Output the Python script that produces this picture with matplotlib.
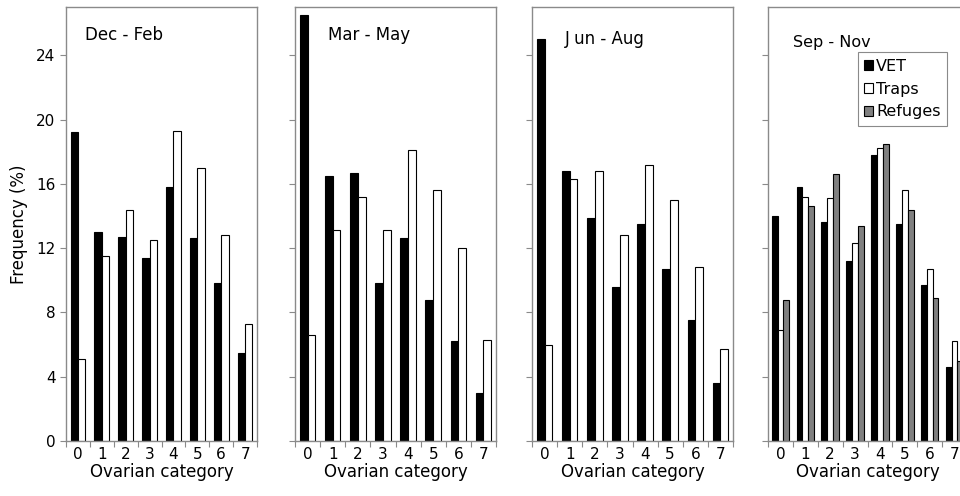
import matplotlib
matplotlib.use("Agg")
import matplotlib.pyplot as plt
import numpy as np

plt.rcParams['font.family'] = ['DejaVu Sans']

categories = [0, 1, 2, 3, 4, 5, 6, 7]
seasons = ["Dec - Feb", "Mar - May", "J un - Aug", "Sep - Nov"]
yticks = [0, 4, 8, 12, 16, 20, 24]

vet_dec = [19.2, 13.0, 12.7, 11.4, 15.8, 12.6, 9.8, 5.5]
traps_dec = [5.1, 11.5, 14.4, 12.5, 19.3, 17.0, 12.8, 7.3]

vet_mar = [26.5, 16.5, 16.7, 9.8, 12.6, 8.8, 6.2, 3.0]
traps_mar = [6.6, 13.1, 15.2, 13.1, 18.1, 15.6, 12.0, 6.3]

vet_jun = [25.0, 16.8, 13.9, 9.6, 13.5, 10.7, 7.5, 3.6]
traps_jun = [6.0, 16.3, 16.8, 12.8, 17.2, 15.0, 10.8, 5.7]

vet_sep = [14.0, 15.8, 13.6, 11.2, 17.8, 13.5, 9.7, 4.6]
traps_sep = [6.9, 15.2, 15.1, 12.3, 18.2, 15.6, 10.7, 6.2]
refuges_sep = [8.8, 14.6, 16.6, 13.4, 18.5, 14.4, 8.9, 5.0]

series_labels = ["VET", "Traps", "Refuges"]

W, H = 960, 496
fig = plt.figure(figsize=(W / 100, H / 100), dpi=100)

# panel pixel extents (left, right)
panels_px = [(66, 257), (295, 496), (532, 733), (768, 967)]
top_px, bot_px = 7, 441

grey = "#8a8a8a"
x = np.array(categories)

data = [
    [vet_dec, traps_dec],
    [vet_mar, traps_mar],
    [vet_jun, traps_jun],
    [vet_sep, traps_sep, refuges_sep],
]
colors = ["black", "white", "#808080"]
title_pos = [(0.10, 0.935), (0.165, 0.935), (0.165, 0.926), (0.125, 0.919)]
title_size = [12, 12, 12, 11.5]

for i, (l, r) in enumerate(panels_px):
    ax = fig.add_axes([l / W, (H - bot_px) / H, (r - l) / W, (bot_px - top_px) / H])
    series = data[i]
    n = len(series)
    bw = 0.31 if n == 2 else 0.235
    for k, vals in enumerate(series):
        off = (k - (n - 1) / 2) * bw
        ax.bar(x + off, vals, width=bw, color=colors[k], edgecolor="black",
               linewidth=0.8, label=series_labels[k], zorder=2)
    ax.set_xlim(-0.5, 7.5)
    ax.set_ylim(0, 27)
    ax.set_xticks(np.arange(-0.5, 8, 1))
    ax.set_xticklabels([])
    ax.set_xticks(x, minor=True)
    ax.set_xticklabels([str(c) for c in categories], minor=True, fontsize=11)
    ax.tick_params(axis="x", which="major", direction="out", length=4, color=grey, width=0.8)
    ax.tick_params(axis="x", which="minor", length=0, pad=4)
    ax.set_yticks(yticks)
    ax.tick_params(axis="y", direction="out", length=4, color=grey, width=0.8, labelsize=11)
    if i > 0:
        ax.set_yticklabels([])
    for s in ax.spines.values():
        s.set_color(grey)
        s.set_linewidth(1.0)
    ax.set_xlabel("Ovarian category", fontsize=12, labelpad=1)
    if i == 0:
        ax.set_ylabel("Frequency (%)", fontsize=12, labelpad=6)
    ax.text(title_pos[i][0], title_pos[i][1], seasons[i], transform=ax.transAxes,
            fontsize=title_size[i], ha="left", va="center")
    if i == 3:
        leg = ax.legend(loc="upper left", bbox_to_anchor=(0.45, 0.896), fontsize=11.5,
                        handlelength=0.55, handleheight=0.55, handletextpad=0.2,
                        borderpad=0.4, labelspacing=0.5, fancybox=False, framealpha=1,
                        borderaxespad=0)
        leg.get_frame().set_edgecolor(grey)
        leg.get_frame().set_linewidth(0.8)

fig.savefig("out.png", dpi=100)
